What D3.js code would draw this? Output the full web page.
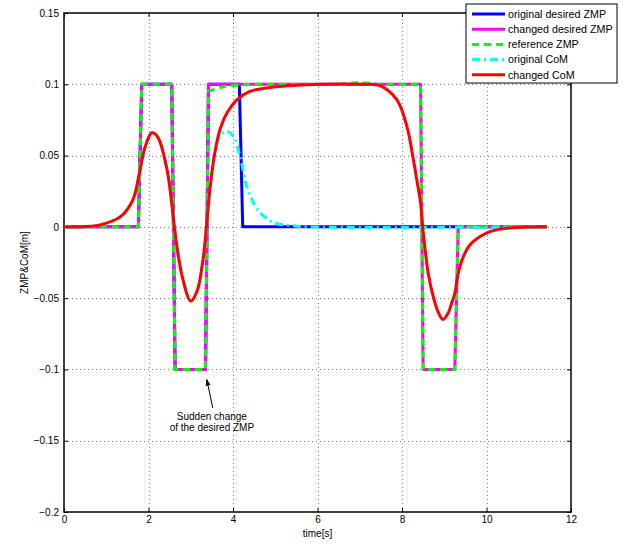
<!DOCTYPE html>
<html>
<head>
<meta charset="utf-8">
<script src="https://cdn.jsdelivr.net/npm/d3@7"></script>
<style>
  body { margin: 0; background: #fff; }
  svg { display: block; font-family: "Liberation Sans", Arial, Helvetica, sans-serif; }
  .tick text { font-size: 10px; fill: #000; }
  .domain { display: none; }
  .tick line { stroke: #000; }
</style>
</head>
<body>
<svg class="chart"></svg>
<script>
// series names (legend order = draw order)
const seriesNames = ['original desired ZMP', 'changed desired ZMP', 'reference ZMP', 'original CoM', 'changed CoM']

// original desired ZMP
const tOrigZmp = [0, 1.76, 1.84, 2.55, 2.63, 3.35, 3.42, 4.15, 4.23, 11.43]
const vOrigZmp = [0, 0, 0.1, 0.1, -0.1, -0.1, 0.1, 0.1, 0, 0]

// changed desired ZMP
const tChgZmp = [0, 1.76, 1.84, 2.55, 2.63, 3.35, 3.42, 8.44, 8.5, 9.25, 9.33, 11.43]
const vChgZmp = [0, 0, 0.1, 0.1, -0.1, -0.1, 0.1, 0.1, -0.1, -0.1, 0, 0]

// reference ZMP
const tRefZmp = [0, 1.76, 1.84, 2.55, 2.63, 3.35, 3.42, 3.55, 3.8, 4.2, 4.6, 6.5, 7.0, 7.4, 8.44, 8.5, 9.25, 9.33, 11.43]
const vRefZmp = [0, 0, 0.1, 0.1, -0.1, -0.1, 0.095, 0.0965, 0.0985, 0.0997, 0.1, 0.1, 0.1013, 0.1, 0.1, -0.1, -0.1, 0, 0]

// original CoM
const tOrigCom = [0, 0.5, 0.85, 1.33, 1.63, 1.8, 1.92, 2.08, 2.22, 2.44, 2.56, 2.65, 2.8, 3.0, 3.15, 3.29, 3.38, 3.46, 3.57, 3.7, 3.85, 4.0, 4.17, 4.33, 4.5, 4.64, 4.95, 5.35, 5.8, 11.43]
const vOrigCom = [0, 0.0002, 0.0014, 0.007, 0.019, 0.04, 0.056, 0.066, 0.063, 0.04, 0.014, -0.009, -0.035, -0.052, -0.045, -0.023, 0.003, 0.028, 0.052, 0.064, 0.067, 0.064, 0.049, 0.028, 0.016, 0.01, 0.003, 0.001, 0, 0]

// changed CoM
const tChgCom = [0, 0.5, 0.85, 1.33, 1.63, 1.8, 1.92, 2.08, 2.22, 2.44, 2.56, 2.65, 2.8, 3.0, 3.15, 3.29, 3.38, 3.46, 3.57, 3.69, 3.86, 4.09, 4.4, 4.95, 5.75, 7.0, 7.48, 7.88, 8.12, 8.27, 8.35, 8.43, 8.49, 8.54, 8.62, 8.74, 8.86, 8.97, 9.1, 9.17, 9.25, 9.33, 9.45, 9.61, 9.85, 10.08, 10.32, 10.7, 11.43]
const vChgCom = [0, 0.0002, 0.0014, 0.007, 0.019, 0.04, 0.056, 0.066, 0.063, 0.04, 0.014, -0.009, -0.035, -0.052, -0.045, -0.023, 0.003, 0.028, 0.052, 0.068, 0.08, 0.089, 0.095, 0.098, 0.0997, 0.1, 0.099, 0.089, 0.07, 0.047, 0.033, 0.019, 0.0, -0.014, -0.0326, -0.049, -0.06, -0.065, -0.06, -0.054, -0.0466, -0.0326, -0.021, -0.0126, -0.0068, -0.0033, -0.0016, -0.0005, 0]

const xTicks = [0, 2, 4, 6, 8, 10, 12]
const yTicks = [-0.2, -0.15, -0.1, -0.05, 0, 0.05, 0.1, 0.15]

const width = 628
const height = 545
const margin = { left: 64, right: 57, top: 13, bottom: 33 }

const zip = (ts, vs) => ts.map((t, i) => [t, vs[i]])

const series = [
  { name: seriesNames[0], data: zip(tOrigZmp, vOrigZmp), color: '#0000ff', dash: null, smooth: false },
  { name: seriesNames[1], data: zip(tChgZmp, vChgZmp), color: '#ff00ff', dash: null, smooth: false },
  { name: seriesNames[2], data: zip(tRefZmp, vRefZmp), color: '#00ff00', dash: '7,5', smooth: false },
  { name: seriesNames[3], data: zip(tOrigCom, vOrigCom), color: '#00ffff', dash: '8,4,2,4', smooth: true },
  { name: seriesNames[4], data: zip(tChgCom, vChgCom), color: '#ff0000', dash: null, smooth: true },
]

const x = d3.scaleLinear().domain([0, 12]).range([margin.left, width - margin.right])
const y = d3.scaleLinear().domain([-0.2, 0.15]).range([height - margin.bottom, margin.top])

const svg = d3.select('.chart')
  .attr('width', width)
  .attr('height', height)

// dotted grid
const grid = svg.append('g').attr('class', 'grid')
  .attr('stroke', '#888')
  .attr('stroke-width', 1)
  .attr('stroke-dasharray', '1,3')
grid.selectAll('line.gx')
  .data(xTicks.slice(1, -1))
  .enter()
  .append('line')
  .attr('x1', d => Math.round(x(d)) + 0.5)
  .attr('x2', d => Math.round(x(d)) + 0.5)
  .attr('y1', y(-0.2))
  .attr('y2', y(0.15))
grid.selectAll('line.gy')
  .data(yTicks.slice(1, -1))
  .enter()
  .append('line')
  .attr('y1', d => Math.round(y(d)) + 0.5)
  .attr('y2', d => Math.round(y(d)) + 0.5)
  .attr('x1', x(0))
  .attr('x2', x(12))

// axes, ticks inside like matlab
const fmt = d3.format('~g')
svg.append('g')
  .attr('transform', `translate(0,${y(-0.2)})`)
  .call(d3.axisBottom(x).tickValues(xTicks).tickFormat(fmt).tickSize(-4).tickPadding(4))
svg.append('g')
  .attr('transform', `translate(0,${y(0.15)})`)
  .call(d3.axisTop(x).tickValues(xTicks).tickFormat('').tickSize(-4))
svg.append('g')
  .attr('transform', `translate(${x(0)},0)`)
  .call(d3.axisLeft(y).tickValues(yTicks).tickFormat(fmt).tickSize(-4).tickPadding(5))
svg.append('g')
  .attr('transform', `translate(${x(12)},0)`)
  .call(d3.axisRight(y).tickValues(yTicks).tickFormat('').tickSize(-4))

svg.append('rect')
  .attr('x', x(0))
  .attr('y', y(0.15))
  .attr('width', x(12) - x(0))
  .attr('height', y(-0.2) - y(0.15))
  .attr('fill', 'none')
  .attr('stroke', '#000')
  .attr('stroke-width', 1.5)

// data lines
const lineStraight = d3.line().x(d => x(d[0])).y(d => y(d[1]))
const lineSmooth = d3.line().x(d => x(d[0])).y(d => y(d[1])).curve(d3.curveCatmullRom.alpha(0.5))

svg.append('g').attr('class', 'lines')
  .selectAll('path')
  .data(series)
  .enter()
  .append('path')
  .attr('d', s => (s.smooth ? lineSmooth : lineStraight)(s.data))
  .attr('fill', 'none')
  .attr('stroke', s => s.color)
  .attr('stroke-width', 3)
  .attr('stroke-dasharray', s => s.dash)
  .attr('stroke-linejoin', 'round')

// annotation
const note = svg.append('g').attr('class', 'note')
note.append('defs').append('marker')
  .attr('id', 'arrow')
  .attr('viewBox', '0 0 10 10')
  .attr('refX', 9)
  .attr('refY', 5)
  .attr('markerWidth', 7)
  .attr('markerHeight', 7)
  .attr('orient', 'auto')
  .append('path')
  .attr('d', 'M0,1.5 L10,5 L0,8.5 z')
  .attr('fill', '#000')
note.append('line')
  .attr('x1', x(3.52))
  .attr('y1', y(-0.127))
  .attr('x2', x(3.38))
  .attr('y2', y(-0.107))
  .attr('stroke', '#000')
  .attr('stroke-width', 1)
  .attr('marker-end', 'url(#arrow)')
note.selectAll('text')
  .data(['Sudden change', 'of the desired ZMP'])
  .enter()
  .append('text')
  .attr('x', x(3.5))
  .attr('y', (d, i) => y(-0.1353) + i * 11.5)
  .attr('text-anchor', 'middle')
  .attr('font-size', 10)
  .text(d => d)

// axis titles
svg.append('text')
  .attr('x', (x(0) + x(12)) / 2)
  .attr('y', 537)
  .attr('text-anchor', 'middle')
  .attr('font-size', 10)
  .text('time[s]')
svg.append('text')
  .attr('transform', `translate(28,${(y(0.15) + y(-0.2)) / 2}) rotate(-90)`)
  .attr('text-anchor', 'middle')
  .attr('font-size', 10)
  .text('ZMP&CoM[m]')

// legend
const legend = svg.append('g').attr('class', 'legend').attr('transform', 'translate(466,4)')
legend.append('rect')
  .attr('width', 151)
  .attr('height', 79)
  .attr('fill', '#fff')
  .attr('stroke', '#000')
  .attr('stroke-width', 1)
const item = legend.selectAll('g.item')
  .data(series)
  .enter()
  .append('g')
  .attr('class', 'item')
  .attr('transform', (s, i) => `translate(0,${10 + i * 15.2})`)
item.append('line')
  .attr('x1', 6)
  .attr('x2', 39)
  .attr('stroke', s => s.color)
  .attr('stroke-width', 3)
  .attr('stroke-dasharray', s => s.dash)
item.append('text')
  .attr('x', 42)
  .attr('dy', '0.35em')
  .attr('font-size', 10.7)
  .text(s => s.name)
</script>
</body>
</html>
